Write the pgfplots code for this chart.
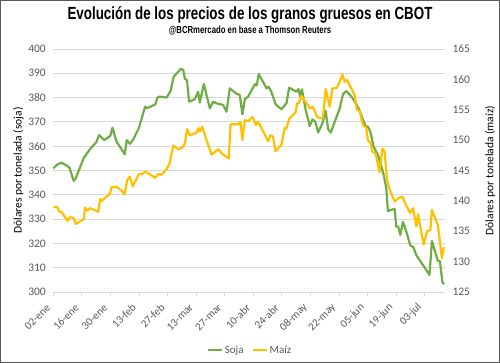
\documentclass[border=0pt]{standalone}
\usepackage{fontspec}
\setmainfont{Carlito}
\newfontfamily\titlefont[FakeStretch=0.76]{Liberation Sans}
\usepackage{pgfplots}
\pgfplotsset{compat=1.18}
\definecolor{soja}{HTML}{70AD47}
\definecolor{maiz}{HTML}{FFC000}
\definecolor{tickc}{HTML}{595959}
\definecolor{gridc}{HTML}{D9D9D9}
\begin{document}
\begin{tikzpicture}[x=1pt,y=1pt]
\path[use as bounding box] (0,0) rectangle (500,363);
\draw[color=tickc, line width=1.2pt] (0.6,0.6) rectangle (499.4,362.4);
\node[font=\titlefont\bfseries\fontsize{17.6}{19}\selectfont] at (250,348) {Evolución de los precios de los granos gruesos en CBOT};
\node[font=\titlefont\bfseries\fontsize{10.2}{12}\selectfont] at (250,332) {@BCRmercado en base a Thomson Reuters};
\begin{axis}[at={(53.3pt,71pt)}, anchor=south west, scale only axis,
  width=391.7pt, height=243pt,
  xmin=0, xmax=192, ymin=300, ymax=400,
  ytick={300,310,...,400},
  ymajorgrids, grid style={gridc, line width=0.8pt},
  axis x line*=bottom, axis y line*=left,
  y axis line style={draw=none},
  x axis line style={gridc, line width=0.8pt},
  xtick={0,14,...,182},
  xticklabels={02-ene,16-ene,30-ene,13-feb,27-feb,13-mar,27-mar,10-abr,24-abr,08-may,22-may,05-jun,19-jun,03-jul},
  xtick align=outside,
  x tick style={gridc, line width=0.8pt},
  major tick length=4pt,
  y tick style={draw=none},
  /pgf/number format/assume math mode=true,
  x tick label style={xshift=-4pt, yshift=-9pt, rotate=45, anchor=east, inner sep=1pt, font=\fontsize{11}{13}\selectfont, text=tickc},
  y tick label style={font=\fontsize{11.5}{13}\selectfont, text=tickc, xshift=-4pt},
  ylabel={Dólares por tonelada (soja)},
  ylabel style={at={(axis description cs:-0.0894,0.5)}, anchor=center, font=\fontsize{11.5}{13}\selectfont, text=black},
  clip=false,
]
\addplot[soja, line width=2.2pt, line join=round] coordinates {
(0,350.9)(2,352.5)(4,353.2)(7,351.8)(8,351)(10,345.7)(11,346.8)(15,355.3)(16,356.4)(18,358.8)(21,361.6)(22.5,364.6)(25,362.5)(28,364.3)(29,367.6)(31,361.9)(35,356.7)(36,362.5)(37.5,361)(39,362.5)(42,367.6)(45,376.3)(46,375.6)(50,377.2)(51,380)(52,380.4)(55.5,380)(57.5,382.7)(59,388.6)(62.5,391.8)(63.7,391.4)(64.5,387.7)(65.5,387.2)(66.6,378.3)(69.4,379.4)(71,382.4)(71.8,378)(73.8,385.6)(76.7,375.6)(78.3,378.3)(80.5,377.5)(83.2,377)(84.9,374.2)(86.5,383.8)(89.5,381.8)(91.4,381)(92.7,373.1)(93.9,379.4)(95.5,380.4)(98.8,385.5)(99.7,385)(100.7,389.7)(102.8,386.5)(104.5,383.8)(105.5,384.5)(106.9,382.4)(109,377.2)(111.8,375.2)(114.3,377.7)(115.6,384.1)(119.2,382.4)(120.2,383.5)(121,380.5)(121.9,383.4)(123.7,374.9)(125.7,368.3)(127,371)(128.5,370)(129.8,365.6)(131.9,369.4)(133.5,374.5)(134.7,367.1)(136,365.6)(140.4,375.6)(142,381.4)(143.7,382.7)(145,381.5)(146.5,380)(148.6,377.2)(149.8,375.3)(151.5,371.5)(153.1,368.3)(154.2,368)(155.4,366)(157,359.8)(159.1,356.4)(161.3,350.2)(162,348)(163.2,342.9)(164,333.3)(165.7,333.8)(167.3,334.2)(168.1,326.9)(169,327)(170.1,323.5)(171.4,328.9)(173,325)(175,319.1)(176.5,318.5)(177.9,315.2)(181.2,311.1)(184.4,307)(185.6,321)(187,317)(188.5,312.8)(189.5,312.8)(190.7,304.2)(191.5,303.2)
};
\end{axis}
\begin{axis}[at={(53.3pt,71pt)}, anchor=south west, scale only axis,
  width=391.7pt, height=243pt,
  xmin=0, xmax=192, ymin=125, ymax=165,
  ytick={125,130,...,165},
  axis x line=none, axis y line*=right,
  y axis line style={draw=none},
  y tick style={draw=none},
  /pgf/number format/assume math mode=true,
  y tick label style={font=\fontsize{11.5}{13}\selectfont, text=tickc, xshift=4pt},
  ylabel={Dólares por tonelada (maíz)},
  ylabel style={at={(axis description cs:1.1149,0.5)}, anchor=center, rotate=0, font=\fontsize{11.5}{13}\selectfont, text=black},
  legend style={at={(0.502,-0.239)}, anchor=center, legend columns=2, draw=none, fill=none, font=\fontsize{11}{13}\selectfont, text=tickc, /tikz/every even column/.append style={column sep=6pt}},
  legend image code/.code={\draw[#1] (0pt,0pt) -- (14pt,0pt);},
  clip=false,
]
\addlegendimage{soja, line width=2.2pt}
\addlegendentry{Soja}
\addplot[maiz, line width=2.2pt, line join=round] coordinates {
(0,139.0)(2,139.0)(3,138.2)(4,138.2)(7,136.7)(8,137.3)(10,137.2)(11,136.2)(15,137)(15.5,138.9)(16.7,138.4)(18,138.8)(22,138.2)(23,140.3)(23.7,140)(27.8,141.2)(28.6,142.3)(31,142.3)(32.7,141.9)(35,141.1)(36.2,143.4)(37.5,144)(38.9,142.4)(42,144.4)(43.3,144.4)(45.2,144.8)(50,143.8)(51.4,144.4)(53,144.3)(55.5,145.2)(57,146.2)(58.8,149.1)(61.2,148.5)(63.4,148.8)(64.5,149.5)(65.6,151.8)(66.9,150.8)(70.2,151.2)(71.2,152)(71.8,151.4)(73,152.2)(75,150.1)(77.6,147.6)(80.8,148.5)(83.2,147.6)(86,147)(86.9,152.6)(91,152.6)(91.7,153)(92.7,150)(93.9,153.3)(95.5,153.1)(97.6,153.8)(99.3,152.5)(100.4,153)(102.8,151.5)(105.3,149.8)(106.4,150.8)(107.7,150.6)(108.9,148.2)(111.8,149.2)(113.4,152)(114.3,151.9)(115.6,153.5)(118.8,154.6)(119.5,156.1)(120.4,156.1)(121.6,157.3)(124.1,156.1)(125.7,155.2)(127.3,155.5)(129,154)(130.6,153.6)(132.2,153.7)(133.5,158.4)(135.5,155.5)(136.8,158.5)(139,158.6)(140.4,159.6)(141.7,160.8)(142.8,159.6)(144,159.9)(147.7,157.4)(148.8,155)(150.1,154.8)(151.8,152.5)(153.4,152)(154.2,150)(155.4,149.6)(156.4,148.1)(158,147.8)(159.9,144.7)(161.3,148.6)(162.4,148.1)(163.5,143.7)(164.5,142.2)(167.3,139.9)(169.4,140.5)(171.1,140.7)(173,139.2)(175,138)(176.3,138.8)(178,135.8)(178.8,137.8)(181.5,132.8)(183.2,135)(184.8,135.2)(185.6,138.5)(188.5,136)(190.5,130.6)(191.5,132.4)
};
\addlegendentry{Maíz}
\end{axis}
\end{tikzpicture}
\end{document}
